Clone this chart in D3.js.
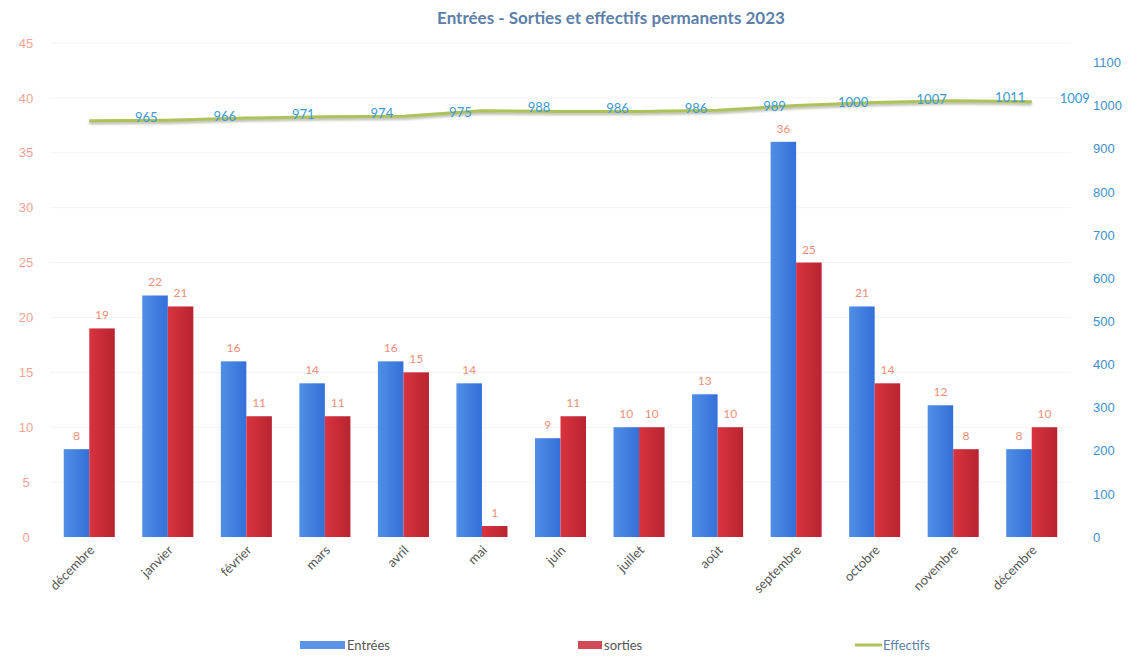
<!DOCTYPE html>
<html>
<head>
<meta charset="utf-8">
<script src="https://cdn.jsdelivr.net/npm/d3@7"></script>
<style>
  html, body { margin: 0; padding: 0; background: #fff; }
  svg { display: block; font-family: Lato, "Open Sans", sans-serif; }
</style>
</head>
<body>
<svg id="chart" width="1147" height="672"></svg>
<script>
// Monthly data, permanent staff 2023
const months = ["décembre", "janvier", "février", "mars", "avril", "mai", "juin",
                "juillet", "août", "septembre", "octobre", "novembre", "décembre"];
const entrees = [8, 22, 16, 14, 16, 14, 9, 10, 13, 36, 21, 12, 8];
const sorties = [19, 21, 11, 11, 15, 1, 11, 10, 10, 25, 14, 8, 10];
const effectifs = [965, 966, 971, 974, 975, 988, 986, 986, 989, 1000, 1007, 1011, 1009];
const leftTicks = [0, 5, 10, 15, 20, 25, 30, 35, 40, 45];
const rightTicks = [0, 100, 200, 300, 400, 500, 600, 700, 800, 900, 1000, 1100];

const svg = d3.select("#chart");
const margin = { left: 50, right: 76, top: 43, bottom: 135 };
const W = 1147, H = 672;
const plotRight = W - margin.right;
const plotBottom = H - margin.bottom;

const keys = months.map((m, i) => i);
const x = d3.scaleBand().domain(keys).range([margin.left, plotRight]).paddingInner(0.35).paddingOuter(0.175);
const xSub = d3.scaleBand().domain(["e", "s"]).range([0, x.bandwidth()]);
const yL = d3.scaleLinear().domain([0, 45]).range([plotBottom, margin.top]);
const yR = d3.scaleLinear().domain([0, 1100]).range([plotBottom, plotBottom - (plotBottom - margin.top) * 1100 / 1145]);

// Gradients for the bar fills
const defs = svg.append("defs");
function hGrad(id, c1, c2) {
  const g = defs.append("linearGradient").attr("id", id).attr("x1", 0).attr("x2", 1).attr("y1", 0).attr("y2", 0);
  g.append("stop").attr("offset", "0%").attr("stop-color", c1);
  g.append("stop").attr("offset", "100%").attr("stop-color", c2);
}
hGrad("gBlue", "#4f8fe6", "#3470d8");
hGrad("gRed", "#d8343f", "#b82430");
const blur = defs.append("filter").attr("id", "shadow").attr("x", "-5%").attr("y", "-50%").attr("width", "110%").attr("height", "200%");
blur.append("feGaussianBlur").attr("stdDeviation", 1.2);

// Gridlines
svg.append("g").selectAll("line").data(leftTicks.slice(1)).join("line")
  .attr("x1", margin.left).attr("x2", plotRight)
  .attr("y1", d => yL(d)).attr("y2", d => yL(d))
  .attr("stroke", "#f3f3f3").attr("stroke-width", 1);

// Left axis
const axL = svg.append("g").attr("transform", `translate(${margin.left - 18},0)`)
  .call(d3.axisLeft(yL).tickValues(leftTicks).tickSize(0).tickPadding(0));
axL.select(".domain").remove();
axL.selectAll("text").attr("fill", "#f2a394").attr("font-size", 13).attr("text-anchor", "middle").attr("dx", -6);

// Right axis
const axR = svg.append("g").attr("transform", `translate(${plotRight + 22},0)`)
  .call(d3.axisRight(yR).tickValues(rightTicks).tickFormat(d3.format("d")).tickSize(0).tickPadding(0));
axR.select(".domain").remove();
axR.selectAll("text").attr("fill", "#3f8fcf").attr("font-size", 13);

// Bars
const groups = svg.append("g").selectAll("g").data(keys).join("g")
  .attr("transform", d => `translate(${x(d)},0)`);
groups.append("rect")
  .attr("x", xSub("e")).attr("width", xSub.bandwidth())
  .attr("y", d => yL(entrees[d])).attr("height", d => yL(0) - yL(entrees[d]))
  .attr("fill", "url(#gBlue)");
groups.append("rect")
  .attr("x", xSub("s")).attr("width", xSub.bandwidth())
  .attr("y", d => yL(sorties[d])).attr("height", d => yL(0) - yL(sorties[d]))
  .attr("fill", "url(#gRed)");
groups.append("text")
  .attr("x", xSub("e") + xSub.bandwidth() / 2).attr("y", d => yL(entrees[d]) - 9)
  .attr("text-anchor", "middle").attr("font-size", 12).attr("fill", "#ee8f78")
  .text(d => entrees[d]);
groups.append("text")
  .attr("x", xSub("s") + xSub.bandwidth() / 2).attr("y", d => yL(sorties[d]) - 9)
  .attr("text-anchor", "middle").attr("font-size", 12).attr("fill", "#ee8f78")
  .text(d => sorties[d]);

// Effectifs line with soft shadow
const cx = d => x(d) + x.bandwidth() / 2;
const line = d3.line().x(d => cx(d)).y(d => yR(effectifs[d]));
svg.append("path").datum(keys).attr("d", line)
  .attr("fill", "none").attr("stroke", "#8c8c7a").attr("stroke-width", 3.5)
  .attr("opacity", 0.55).attr("transform", "translate(0,2)").attr("filter", "url(#shadow)");
svg.append("path").datum(keys).attr("d", line)
  .attr("fill", "none").attr("stroke", "#aec25a").attr("stroke-width", 3);

svg.append("g").selectAll("text").data(keys).join("text")
  .attr("x", d => cx(d) + (d === keys.length - 1 ? 43 : 57))
  .attr("y", d => yR(effectifs[d]) + 1)
  .attr("text-anchor", "middle").attr("font-size", 13).attr("fill", "#3d9ad8")
  .text(d => effectifs[d]);

// Category labels
svg.append("g").selectAll("text").data(keys).join("text")
  .attr("transform", d => `translate(${cx(d) + 6},${plotBottom + 14}) rotate(-45)`)
  .attr("text-anchor", "end").attr("font-size", 13).attr("fill", "#555")
  .text(d => months[d]);

// Title
svg.append("text").attr("x", 611).attr("y", 24).attr("text-anchor", "middle")
  .attr("font-size", 17).attr("font-weight", "bold").attr("fill", "#5c7fa9")
  .text("Entrées - Sorties et effectifs permanents 2023");

// Legend
const lg = svg.append("g").attr("font-size", 13).attr("fill", "#555");
lg.append("rect").attr("x", 300).attr("y", 641).attr("width", 45).attr("height", 8).attr("fill", "#5a93e8");
lg.append("text").attr("x", 347).attr("y", 650).text("Entrées");
lg.append("rect").attr("x", 578).attr("y", 641).attr("width", 24).attr("height", 8).attr("fill", "#cf4a55");
lg.append("text").attr("x", 604).attr("y", 650).text("sorties");
lg.append("line").attr("x1", 855).attr("x2", 882).attr("y1", 645).attr("y2", 645).attr("stroke", "#aec25a").attr("stroke-width", 3);
lg.append("text").attr("x", 883).attr("y", 650).attr("fill", "#5c7fa9").text("Effectifs");
</script>
</body>
</html>
